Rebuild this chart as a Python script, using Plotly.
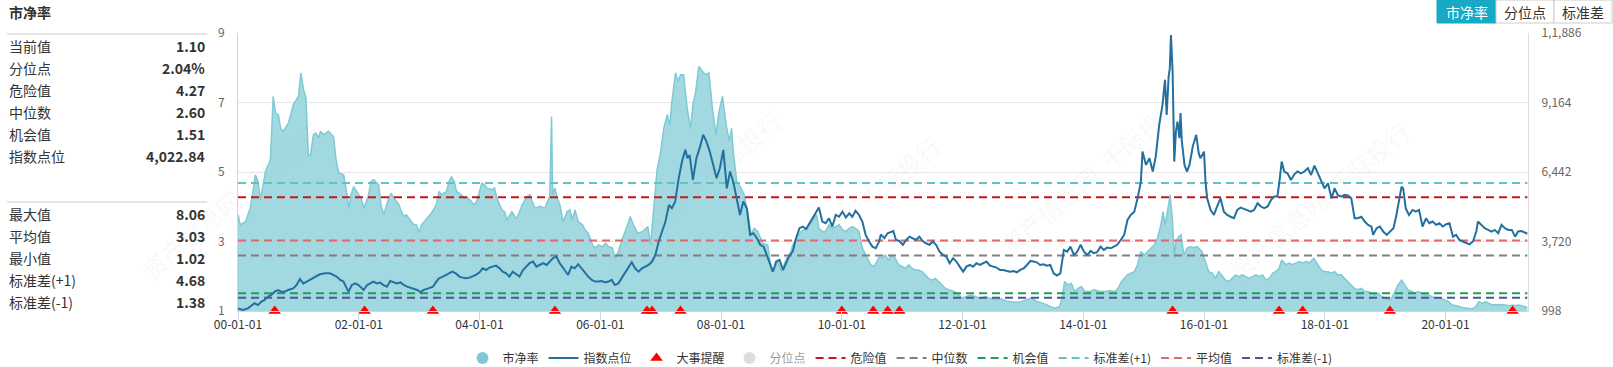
import plotly.graph_objects as go

# ---------------- data ----------------
pb_dates = [
 "2000-01-01","2000-01-15","2000-02-15","2000-03-15","2000-04-01","2000-04-15","2000-05-01","2000-05-15","2000-06-01","2000-06-15",
 "2000-07-15","2000-08-01","2000-08-15","2000-09-01","2000-09-15","2000-10-01","2000-11-01","2000-11-15","2000-12-01","2001-01-01",
 "2001-01-15","2001-02-01","2001-02-15","2001-03-01","2001-03-15","2001-04-01","2001-04-15","2001-05-01","2001-05-15","2001-06-01",
 "2001-07-01","2001-08-01","2001-08-15","2001-09-01","2001-10-01","2001-10-15","2001-11-01","2001-11-15","2001-12-01","2002-01-01",
 "2002-01-15","2002-02-01","2002-03-01","2002-03-15","2002-04-01","2002-05-01","2002-05-15","2002-06-01","2002-07-01","2002-07-15",
 "2002-08-01","2002-09-01","2002-09-15","2002-10-01","2002-10-15","2002-11-15","2002-12-01","2002-12-15","2003-01-01","2003-01-15",
 "2003-02-15","2003-03-15","2003-04-15","2003-05-01","2003-05-15","2003-06-15","2003-07-01","2003-07-15","2003-08-01","2003-08-15",
 "2003-09-15","2003-10-01","2003-10-15","2003-11-15","2003-12-01","2003-12-15","2004-01-15","2004-02-01","2004-02-15","2004-03-15",
 "2004-04-01","2004-04-15","2004-05-15","2004-06-01","2004-06-15","2004-07-15","2004-08-01","2004-08-15","2004-09-15","2004-10-15",
 "2004-11-01","2004-11-15","2004-12-01","2005-01-01","2005-02-01","2005-02-15","2005-03-01","2005-03-12","2005-03-18","2005-04-01",
 "2005-04-15","2005-05-01","2005-05-20","2005-06-15","2005-07-01","2005-07-15","2005-08-01","2005-08-20","2005-09-15","2005-10-01",
 "2005-10-20","2005-11-15","2005-12-01","2005-12-20","2006-01-15","2006-02-01","2006-02-20","2006-03-15","2006-04-01","2006-04-20",
 "2006-05-15","2006-06-15","2006-07-01","2006-07-20","2006-08-15","2006-09-15","2006-10-15","2006-11-01","2006-11-20","2006-12-10",
 "2007-01-01","2007-01-20","2007-02-10","2007-02-25","2007-03-10","2007-04-01","2007-04-15","2007-05-01","2007-05-20","2007-06-10",
 "2007-07-01","2007-07-15","2007-08-01","2007-08-20","2007-09-10","2007-10-01","2007-10-20","2007-11-10","2007-12-01","2007-12-20",
 "2008-01-10","2008-02-01","2008-02-20","2008-03-05","2008-03-15","2008-04-05","2008-05-01","2008-05-20","2008-06-10","2008-07-01",
 "2008-07-20","2008-08-10","2008-09-10","2008-10-10","2008-11-01","2008-11-20","2008-12-10","2009-01-01","2009-02-01","2009-02-20",
 "2009-03-10","2009-04-01","2009-05-01","2009-06-01","2009-07-01","2009-08-01","2009-08-15","2009-09-05","2009-09-25","2009-10-15",
 "2009-11-05","2009-11-25","2009-12-15","2010-01-05","2010-01-25","2010-02-15","2010-03-05","2010-03-25","2010-04-15","2010-05-05",
 "2010-06-05","2010-06-25","2010-07-15","2010-08-15","2010-09-01","2010-09-20","2010-10-10","2010-11-01","2010-11-20","2010-12-10",
 "2011-01-01","2011-01-20","2011-02-10","2011-03-01","2011-03-20","2011-04-10","2011-05-01","2011-05-20","2011-06-10","2011-07-01",
 "2011-07-20","2011-08-10","2011-09-01","2011-09-20","2011-10-10","2011-11-10","2011-12-10","2012-01-01","2012-01-20","2012-02-20",
 "2012-03-20","2012-04-20","2012-05-20","2012-06-20","2012-07-20","2012-08-20","2012-09-20","2012-10-20","2012-11-20","2012-12-20",
 "2013-01-20","2013-02-20","2013-03-20","2013-04-20","2013-05-20","2013-06-20","2013-07-10","2013-08-10","2013-08-25","2013-09-10",
 "2013-09-30","2013-10-20","2013-11-10","2013-11-30","2013-12-20","2014-01-10","2014-02-10","2014-03-10","2014-04-10","2014-05-10",
 "2014-06-10","2014-07-10","2014-07-30","2014-08-20","2014-09-05","2014-09-25","2014-10-15","2014-11-05","2014-11-25","2014-12-15",
 "2015-01-05","2015-01-25","2015-02-15","2015-03-05","2015-03-25","2015-04-15","2015-04-28","2015-05-10","2015-05-25","2015-06-10",
 "2015-06-25","2015-07-05","2015-07-15","2015-08-01","2015-08-15","2015-09-01","2015-09-20","2015-10-10","2015-11-01","2015-11-20",
 "2015-12-20","2016-01-10","2016-01-30","2016-02-20","2016-03-10","2016-03-30","2016-04-20","2016-05-10","2016-05-30","2016-06-20",
 "2016-07-10","2016-07-30","2016-08-20","2016-09-10","2016-09-30","2016-10-20","2016-11-10","2016-11-30","2016-12-20","2017-01-10",
 "2017-01-30","2017-02-20","2017-03-10","2017-03-30","2017-04-15","2017-05-10","2017-05-30","2017-06-20","2017-07-10","2017-07-30",
 "2017-08-20","2017-09-10","2017-09-30","2017-10-25","2017-11-20","2017-12-10","2017-12-30","2018-01-20","2018-02-10","2018-03-01",
 "2018-03-20","2018-04-10","2018-04-30","2018-05-20","2018-06-10","2018-06-30","2018-07-20","2018-08-10","2018-08-30","2018-09-20",
 "2018-10-10","2018-10-30","2018-11-20","2018-12-10","2018-12-30","2019-01-20","2019-02-10","2019-03-01","2019-03-20","2019-04-10",
 "2019-04-30","2019-05-20","2019-06-10","2019-06-30","2019-07-20","2019-08-10","2019-08-30","2019-09-20","2019-10-10","2019-10-30",
 "2019-11-20","2019-12-10","2019-12-30","2020-01-20","2020-02-10","2020-03-10","2020-04-10","2020-05-10","2020-06-10","2020-06-30",
 "2020-07-20","2020-08-10","2020-08-30","2020-09-20","2020-10-10","2020-10-30","2020-11-20","2020-12-10","2020-12-30","2021-01-20",
 "2021-02-10","2021-03-01","2021-03-20","2021-04-10","2021-04-30","2021-05-10",
]
pb_values = [
 3.77,3.48,3.57,3.96,4.44,4.92,4.73,4.20,4.63,5.01,
 5.35,7.18,6.70,6.65,6.26,6.17,6.41,6.70,6.94,7.18,
 7.85,7.37,7.13,5.50,5.50,6.07,6.12,5.98,6.17,6.07,
 6.17,6.02,5.40,4.97,4.92,4.54,3.96,4.34,4.58,4.34,
 4.25,3.96,4.34,4.73,4.78,4.63,4.06,3.77,4.25,4.39,
 4.25,4.06,3.86,3.72,3.77,3.57,3.48,3.48,3.27,3.48,
 3.67,3.81,4.06,4.44,4.34,4.44,4.73,4.87,4.73,4.44,
 4.34,4.25,4.29,4.15,4.06,4.15,4.68,4.63,4.54,4.49,
 4.54,4.25,3.91,3.86,3.62,3.86,3.72,3.67,4.06,4.29,
 4.34,4.15,3.96,4.01,3.96,4.15,4.30,6.60,4.34,4.54,
 4.25,4.06,3.57,3.86,3.91,3.62,3.91,3.57,3.48,3.33,
 3.24,2.90,2.81,2.90,2.85,2.95,2.85,2.81,2.52,2.71,
 3.09,3.48,3.72,3.48,3.24,3.29,3.43,2.90,3.86,5.06,
 5.59,6.26,6.65,6.36,7.03,7.85,7.61,7.80,7.80,6.84,
 6.26,6.94,7.32,8.04,7.90,7.80,7.85,6.84,6.07,6.74,
 7.18,6.36,5.88,6.26,5.59,4.73,4.54,4.34,3.86,3.19,
 3.38,3.29,2.95,2.90,2.13,2.23,2.42,2.13,2.52,2.61,
 2.90,3.09,3.29,3.38,3.57,3.77,3.38,3.29,3.29,3.48,
 3.38,3.43,3.48,3.33,3.29,3.38,3.43,3.38,3.29,2.81,
 2.52,2.33,2.28,2.55,2.52,2.61,2.47,2.61,2.52,2.33,
 2.28,2.23,2.33,2.23,2.18,2.18,2.13,2.04,1.94,1.89,
 1.94,1.85,1.75,1.65,1.61,1.56,1.46,1.37,1.41,1.46,
 1.41,1.37,1.41,1.37,1.32,1.35,1.29,1.27,1.25,1.27,
 1.32,1.37,1.29,1.25,1.19,1.12,1.08,1.12,1.37,1.85,
 1.75,1.80,1.56,1.65,1.70,1.56,1.56,1.61,1.56,1.56,
 1.58,1.56,1.65,1.85,1.94,2.04,2.09,2.13,2.33,2.71,
 2.61,2.71,2.81,2.90,3.09,3.48,3.86,3.48,3.86,4.34,
 3.57,2.52,3.00,3.14,3.19,2.61,2.81,2.85,2.82,2.85,
 2.71,2.42,2.13,2.09,1.94,2.13,1.99,1.89,1.85,1.94,
 2.04,1.99,2.04,1.99,1.94,1.99,2.04,1.99,2.04,1.89,
 1.94,2.09,2.13,2.23,2.47,2.33,2.38,2.33,2.38,2.42,
 2.38,2.42,2.38,2.52,2.33,2.18,2.13,2.13,2.09,2.13,
 2.04,2.04,1.94,1.85,1.75,1.65,1.61,1.65,1.56,1.56,
 1.51,1.46,1.51,1.41,1.37,1.32,1.37,1.56,1.75,1.89,
 1.75,1.61,1.56,1.51,1.56,1.51,1.46,1.46,1.41,1.37,
 1.37,1.35,1.32,1.27,1.17,1.15,1.10,1.08,1.06,1.12,
 1.27,1.22,1.27,1.22,1.17,1.19,1.17,1.19,1.17,1.15,
 1.17,1.15,1.17,1.15,1.12,1.10,
]

idx_dates = [
 "2000-01-01","2000-02-01","2000-03-01","2000-03-15","2000-04-10","2000-05-01","2000-05-20","2000-06-10","2000-07-01","2000-07-20",
 "2000-08-10","2000-08-30","2000-09-20","2000-10-10","2000-10-30","2000-11-30","2000-12-20","2001-01-10","2001-01-30","2001-02-20",
 "2001-03-10","2001-03-30","2001-04-20","2001-05-10","2001-06-10","2001-07-10","2001-07-30","2001-08-20","2001-09-10","2001-09-30",
 "2001-10-20","2001-10-30","2001-11-20","2001-12-10","2001-12-30","2002-01-20","2002-01-30","2002-02-20","2002-03-10","2002-03-30",
 "2002-04-20","2002-05-10","2002-05-30","2002-06-20","2002-07-10","2002-07-30","2002-08-20","2002-09-10","2002-09-30","2002-10-20",
 "2002-11-20","2002-12-20","2003-01-10","2003-01-25","2003-02-25","2003-03-25","2003-04-15","2003-05-01","2003-05-25","2003-06-15",
 "2003-07-01","2003-07-20","2003-08-10","2003-09-01","2003-09-20","2003-10-10","2003-11-01","2003-11-20","2003-12-10","2004-01-01",
 "2004-01-20","2004-02-10","2004-03-01","2004-03-20","2004-04-10","2004-05-01","2004-05-20","2004-06-10","2004-06-30","2004-07-20",
 "2004-08-10","2004-08-30","2004-09-20","2004-10-10","2004-10-30","2004-11-20","2004-12-10","2004-12-30","2005-01-20","2005-02-10",
 "2005-03-01","2005-03-20","2005-04-10","2005-04-30","2005-05-30","2005-06-20","2005-07-10","2005-07-30","2005-08-20","2005-09-10",
 "2005-09-30","2005-10-20","2005-11-10","2005-11-30","2005-12-20","2006-01-10","2006-01-30","2006-02-20","2006-03-10","2006-03-30",
 "2006-04-20","2006-05-10","2006-05-30","2006-06-20","2006-07-10","2006-07-30","2006-08-20","2006-09-10","2006-09-30","2006-10-20",
 "2006-11-10","2006-11-30","2006-12-20","2007-01-10","2007-01-30","2007-02-20","2007-03-10","2007-03-30","2007-04-20","2007-05-10",
 "2007-05-30","2007-06-12","2007-06-25","2007-07-15","2007-08-05","2007-08-25","2007-09-15","2007-10-05","2007-10-25","2007-11-15",
 "2007-12-05","2007-12-25","2008-01-15","2008-02-05","2008-02-25","2008-03-15","2008-04-05","2008-04-25","2008-05-15","2008-06-05",
 "2008-06-25","2008-07-15","2008-08-05","2008-08-25","2008-09-15","2008-10-05","2008-10-25","2008-11-10","2008-11-30","2008-12-20",
 "2009-01-10","2009-01-30","2009-02-20","2009-03-10","2009-03-30","2009-04-20","2009-05-10","2009-05-30","2009-06-20","2009-07-15",
 "2009-08-05","2009-08-15","2009-09-05","2009-09-25","2009-10-15","2009-11-05","2009-11-25","2009-12-15","2010-01-05","2010-01-25",
 "2010-02-15","2010-03-05","2010-03-25","2010-04-15","2010-05-05","2010-05-25","2010-06-15","2010-07-05","2010-07-25","2010-08-15",
 "2010-08-25","2010-09-15","2010-10-05","2010-10-25","2010-11-08","2010-11-25","2010-12-15","2011-01-05","2011-01-25","2011-02-15",
 "2011-03-05","2011-03-25","2011-04-15","2011-05-05","2011-05-25","2011-06-15","2011-07-05","2011-07-25","2011-08-15","2011-09-05",
 "2011-09-25","2011-10-15","2011-11-05","2011-11-25","2011-12-15","2012-01-05","2012-01-25","2012-02-15","2012-03-05","2012-03-25",
 "2012-04-15","2012-05-05","2012-05-25","2012-06-15","2012-07-05","2012-07-25","2012-08-15","2012-09-05","2012-09-25","2012-10-15",
 "2012-11-05","2012-11-25","2012-12-15","2013-01-05","2013-01-25","2013-02-15","2013-03-05","2013-03-25","2013-04-15","2013-05-05",
 "2013-05-25","2013-06-15","2013-07-05","2013-07-25","2013-08-15","2013-09-05","2013-09-25","2013-10-15","2013-11-05","2013-11-25",
 "2013-12-15","2014-01-05","2014-01-25","2014-02-15","2014-03-05","2014-03-25","2014-04-15","2014-05-05","2014-05-25","2014-06-15",
 "2014-07-05","2014-07-25","2014-08-15","2014-09-05","2014-09-25","2014-10-15","2014-11-05","2014-11-25","2014-12-15","2014-12-25",
 "2015-01-15","2015-02-05","2015-02-25","2015-03-15","2015-04-05","2015-04-25","2015-05-10","2015-05-20","2015-06-01","2015-06-08",
 "2015-06-15","2015-06-25","2015-07-05","2015-07-15","2015-07-25","2015-08-05","2015-08-12","2015-08-20","2015-09-05","2015-09-20",
 "2015-10-05","2015-10-25","2015-11-15","2015-11-30","2015-12-10","2016-01-01","2016-01-10","2016-01-20","2016-02-10","2016-03-01",
 "2016-03-20","2016-04-10","2016-04-30","2016-05-20","2016-06-10","2016-06-30","2016-07-20","2016-08-10","2016-08-30","2016-09-20",
 "2016-10-10","2016-10-30","2016-11-20","2016-12-10","2016-12-30","2017-01-20","2017-02-10","2017-03-01","2017-03-20","2017-04-01",
 "2017-04-15","2017-04-30","2017-05-20","2017-06-10","2017-06-30","2017-07-20","2017-08-10","2017-08-30","2017-09-20","2017-10-10",
 "2017-10-30","2017-11-20","2017-12-10","2017-12-30","2018-01-20","2018-02-10","2018-03-01","2018-03-20","2018-04-10","2018-04-30",
 "2018-05-20","2018-06-10","2018-06-30","2018-07-20","2018-08-10","2018-08-30","2018-09-20","2018-10-10","2018-10-20","2018-11-10",
 "2018-11-30","2018-12-20","2019-01-10","2019-01-30","2019-02-20","2019-03-10","2019-03-30","2019-04-10","2019-04-20","2019-05-05",
 "2019-05-25","2019-06-15","2019-07-05","2019-07-25","2019-08-15","2019-09-05","2019-09-25","2019-10-15","2019-11-05","2019-11-25",
 "2019-12-15","2020-01-05","2020-01-25","2020-02-15","2020-03-05","2020-03-25","2020-04-15","2020-05-05","2020-05-25","2020-06-15",
 "2020-07-05","2020-07-15","2020-08-05","2020-08-25","2020-09-15","2020-10-05","2020-10-25","2020-11-15","2020-12-05","2020-12-25",
 "2021-01-15","2021-02-05","2021-02-25","2021-03-15","2021-04-05","2021-05-10",
]
idx_values = [
 1100,1037,1100,1170,1300,1230,1360,1430,1560,1625,
 1755,1820,1755,1755,1820,1885,2015,2250,2080,2150,
 2215,2280,2385,2437,2475,2475,2410,2345,2215,2150,
 1885,1755,2015,2080,2015,1885,1820,2015,2080,2150,
 2080,2110,2015,1950,2175,2120,2080,2120,2015,1950,
 1885,1820,1730,1820,1885,1950,2150,2280,2345,2410,
 2475,2540,2475,2345,2305,2280,2305,2345,2410,2515,
 2670,2605,2700,2735,2775,2670,2540,2475,2345,2540,
 2437,2345,2605,2735,2870,2935,2735,2800,2870,2800,
 2935,3065,3130,2870,2605,2410,2735,2670,2830,2670,
 2475,2345,2215,2150,2150,2175,2120,2150,2215,2015,
 2080,2280,2475,2670,2905,2670,2540,2670,2735,2800,
 2935,3195,3720,4110,4500,5150,5025,5285,6200,6850,
 7310,6980,7110,6130,6980,7375,7900,7630,7240,6720,
 6200,6590,7310,5800,6460,6065,5410,4760,5285,5025,
 3980,4045,3850,3590,3520,3195,2800,2540,2935,3000,
 2605,2870,3195,3325,3850,4240,4305,4210,4435,4760,
 4955,5050,4500,4435,4630,4305,4760,4690,4890,4660,
 4825,4690,4920,4760,4500,3980,3720,3520,3455,3720,
 4000,3850,4045,4110,4130,3780,3740,3590,3780,3910,
 3850,3780,3910,3740,3650,3590,3720,3590,3325,3195,
 3130,2870,3065,2935,2735,2540,2735,2800,2735,2870,
 2800,2870,2935,2775,2735,2700,2605,2605,2565,2540,
 2565,2515,2605,2670,2800,2960,2935,2905,2800,2830,
 2775,2800,2475,2385,2475,3390,3325,3520,3195,3325,
 3590,3325,3195,3350,3260,3300,3520,3390,3480,3455,
 3520,3590,3780,3980,4565,4760,4890,5410,6065,7240,
 6720,6980,6460,7050,8290,9080,10050,8680,10180,10500,
 11810,10375,6850,8030,8420,7770,8750,7630,6720,6460,
 6720,7440,7900,7180,6980,7240,6065,5410,4955,4760,
 5090,5410,4890,4760,4690,4630,4955,5050,5000,4955,
 4890,4955,5220,5090,5025,5090,5350,5480,5480,6065,
 6850,6460,6390,6130,6350,6460,6390,6460,6590,6325,
 6690,6390,6065,5800,6000,5410,5800,5545,5480,5545,
 5520,5410,4630,4630,4690,4500,4370,4305,3980,4240,
 4305,4110,3980,4110,4240,4760,5545,5870,5800,5025,
 4760,4955,4890,4955,4305,4630,4435,4500,4370,4435,
 4305,4395,4435,3910,3980,3780,3720,3650,3610,3720,
 4110,4500,4370,4240,4175,4110,4175,4045,4370,4240,
 4175,4175,3910,4110,4130,4022.84,
]

event_dates = ["2000-08-10","2002-02-05","2003-03-25","2005-04-01","2006-10-10","2006-11-10",
               "2007-05-01","2010-01-01","2010-07-10","2010-10-05","2010-12-15","2015-06-25",
               "2017-03-30","2017-08-20","2019-01-30","2021-02-10"]
event_level = 1.0

ref_names = ["危险值", "中位数", "机会值", "标准差(+1)", "平均值", "标准差(-1)"]
ref_values = [4.27, 2.60, 1.51, 4.68, 3.03, 1.38]
ref_colors = ["#c8161e", "#808080", "#1e9e58", "#62c3c3", "#e46666", "#4a5798"]

stat_labels_top = ["当前值", "分位点", "危险值", "中位数", "机会值", "指数点位"]
stat_values_top = ["1.10", "2.04%", "4.27", "2.60", "1.51", "4,022.84"]
stat_labels_bot = ["最大值", "平均值", "最小值", "标准差(+1)", "标准差(-1)"]
stat_values_bot = ["8.06", "3.03", "1.02", "4.68", "1.38"]

x_tick_vals = ["2000-01-01", "2002-01-01", "2004-01-01", "2006-01-01", "2008-01-01", "2010-01-01",
               "2012-01-01", "2014-01-01", "2016-01-01", "2018-01-01", "2020-01-01"]
x_tick_text = ["00-01-01", "02-01-01", "04-01-01", "06-01-01", "08-01-01", "10-01-01",
               "12-01-01", "14-01-01", "16-01-01", "18-01-01", "20-01-01"]
y_tick_vals = [1, 3, 5, 7, 9]
y2_tick_vals = [998, 3720, 6442, 9164, 11886]
y2_tick_text = ["998", "3,720", "6,442", "9,164", "1,1,886"]

# ---------------- layout geometry ----------------
W, H = 1613, 367
ML, MR, MT, MB = 238, 85, 33, 56
PW, PH = W - ML - MR, H - MT - MB
FONT = "Microsoft YaHei, Noto Sans CJK SC, sans-serif"


def px_x(px):
    return (px - ML) / PW


def px_y(py):
    return (MT + PH - py) / PH


fig = go.Figure()

# PB area
fig.add_trace(go.Scatter(
    x=pb_dates, y=pb_values, mode="lines", name="市净率", legendgroup="pb",
    showlegend=False, fill="tozeroy", fillcolor="#a2d9e1",
    line=dict(color="#7fcad4", width=1.5), yaxis="y"))

# reference dashed lines
for i, (nm, val, col) in enumerate(zip(ref_names, ref_values, ref_colors)):
    fig.add_trace(go.Scatter(
        x=[pb_dates[0], pb_dates[-1]], y=[val, val], mode="lines", name=nm,
        line=dict(color=col, width=2, dash="8px,5px"), legendrank=5 + i, yaxis="y"))

# events
fig.add_trace(go.Scatter(
    x=event_dates, y=[event_level] * len(event_dates), mode="markers", name="大事提醒",
    marker=dict(symbol="triangle-up", size=11, color="#ff0000"), cliponaxis=False,
    legendrank=3, yaxis="y"))

# index line
fig.add_trace(go.Scatter(
    x=idx_dates, y=idx_values, mode="lines", name="指数点位",
    line=dict(color="#23709e", width=2), legendrank=2, yaxis="y2"))

# legend proxy for PB (circle symbol)
fig.add_trace(go.Scatter(
    x=[None], y=[None], mode="markers", name="市净率", legendgroup="pb",
    marker=dict(symbol="circle", size=12, color="#7fcad4"), legendrank=1, yaxis="y"))

# 分位点 (inactive)
fig.add_trace(go.Scatter(
    x=[None], y=[None], mode="markers", name="分位点", visible="legendonly",
    marker=dict(symbol="circle", size=12, color="#bbbbbb"), legendrank=4, yaxis="y"))

annotations = []
annotations.append(dict(x=px_x(7), y=px_y(12), xref="paper", yref="paper", text="<b>市净率</b>",
                        showarrow=False, xanchor="left", yanchor="middle",
                        font=dict(size=14, color="#333333", family=FONT)))
row_y_top = [46, 68, 90, 112, 134, 156]
row_y_bot = [214, 236, 258, 280, 302]
for labels, values, ys in ((stat_labels_top, stat_values_top, row_y_top),
                           (stat_labels_bot, stat_values_bot, row_y_bot)):
    for lb, vl, yy in zip(labels, values, ys):
        annotations.append(dict(x=px_x(7), y=px_y(yy), xref="paper", yref="paper", text=lb,
                                showarrow=False, xanchor="left", yanchor="middle",
                                font=dict(size=14, color="#333333", family=FONT)))
        annotations.append(dict(x=px_x(207), y=px_y(yy), xref="paper", yref="paper",
                                text="<b>%s</b>" % vl, showarrow=False, xanchor="right",
                                yanchor="middle", font=dict(size=14, color="#333333", family=FONT)))

# buttons
btns = [("市净率", 1437, 1496, True), ("分位点", 1496, 1554, False), ("标准差", 1554, 1612, False)]
shapes = []
for txt, x0, x1, active in btns:
    shapes.append(dict(type="rect", xref="paper", yref="paper", x0=px_x(x0), x1=px_x(x1),
                       y0=px_y(23), y1=px_y(0),
                       fillcolor="#17a9c5" if active else "#ffffff",
                       line=dict(color="#17a9c5" if active else "#cccccc", width=1), layer="above"))
    annotations.append(dict(x=px_x((x0 + x1) / 2), y=px_y(12), xref="paper", yref="paper", text=txt,
                            showarrow=False, xanchor="center", yanchor="middle",
                            font=dict(size=14, color="#ffffff" if active else "#333333", family=FONT)))

# separators in the stats panel
for yy in (34, 202):
    shapes.append(dict(type="line", xref="paper", yref="paper", x0=px_x(7), x1=px_x(207),
                       y0=px_y(yy), y1=px_y(yy), line=dict(color="#dddddd", width=1.5)))

# faint watermarks
for cx, cy in [(690, 100), (850, 215), (1420, 110), (130, 200), (1090, 265)]:
    annotations.append(dict(x=px_x(cx), y=px_y(cy), xref="paper", yref="paper",
                            text="资产信息网  千际投行", showarrow=False, textangle=-40,
                            font=dict(size=24, color="rgba(150,150,150,0.07)", family=FONT)))

fig.update_layout(
    width=W, height=H, margin=dict(l=ML, r=MR, t=MT, b=MB, autoexpand=False),
    paper_bgcolor="#ffffff", plot_bgcolor="#ffffff",
    showlegend=True,
    legend=dict(orientation="h", x=px_x(900), xanchor="center", yref="container",
                y=(H - 358) / H, yanchor="middle",
                font=dict(size=12, color="#333333", family=FONT), itemwidth=30,
                bgcolor="rgba(0,0,0,0)"),
    xaxis=dict(type="date", range=["2000-01-01", "2021-05-14"], tickvals=x_tick_vals,
               ticktext=x_tick_text, showgrid=False, showline=True, linecolor="#ccd6eb",
               ticks="outside", ticklen=8, tickcolor="#ccd6eb", automargin=False,
               ticklabelstandoff=-5,
               tickfont=dict(size=12, color="#333333", family=FONT), zeroline=False),
    yaxis=dict(range=[1, 9], tickvals=y_tick_vals, showgrid=True, gridcolor="#e6e6e6",
               showline=True, linecolor="#ccd6eb", zeroline=False, ticklabelstandoff=10,
               automargin=False, tickfont=dict(size=12, color="#666666", family=FONT)),
    yaxis2=dict(range=[998, 11886], tickvals=y2_tick_vals, ticktext=y2_tick_text,
                overlaying="y", side="right", showgrid=False, showline=True,
                linecolor="#dddddd", zeroline=False, ticklabelstandoff=10, automargin=False,
                tickfont=dict(size=12, color="#666666", family=FONT)),
    annotations=annotations, shapes=shapes,
    font=dict(family=FONT),
)

fig.write_html("out.html", config={"displayModeBar": False},
               post_script="document.body.style.margin='0';")
